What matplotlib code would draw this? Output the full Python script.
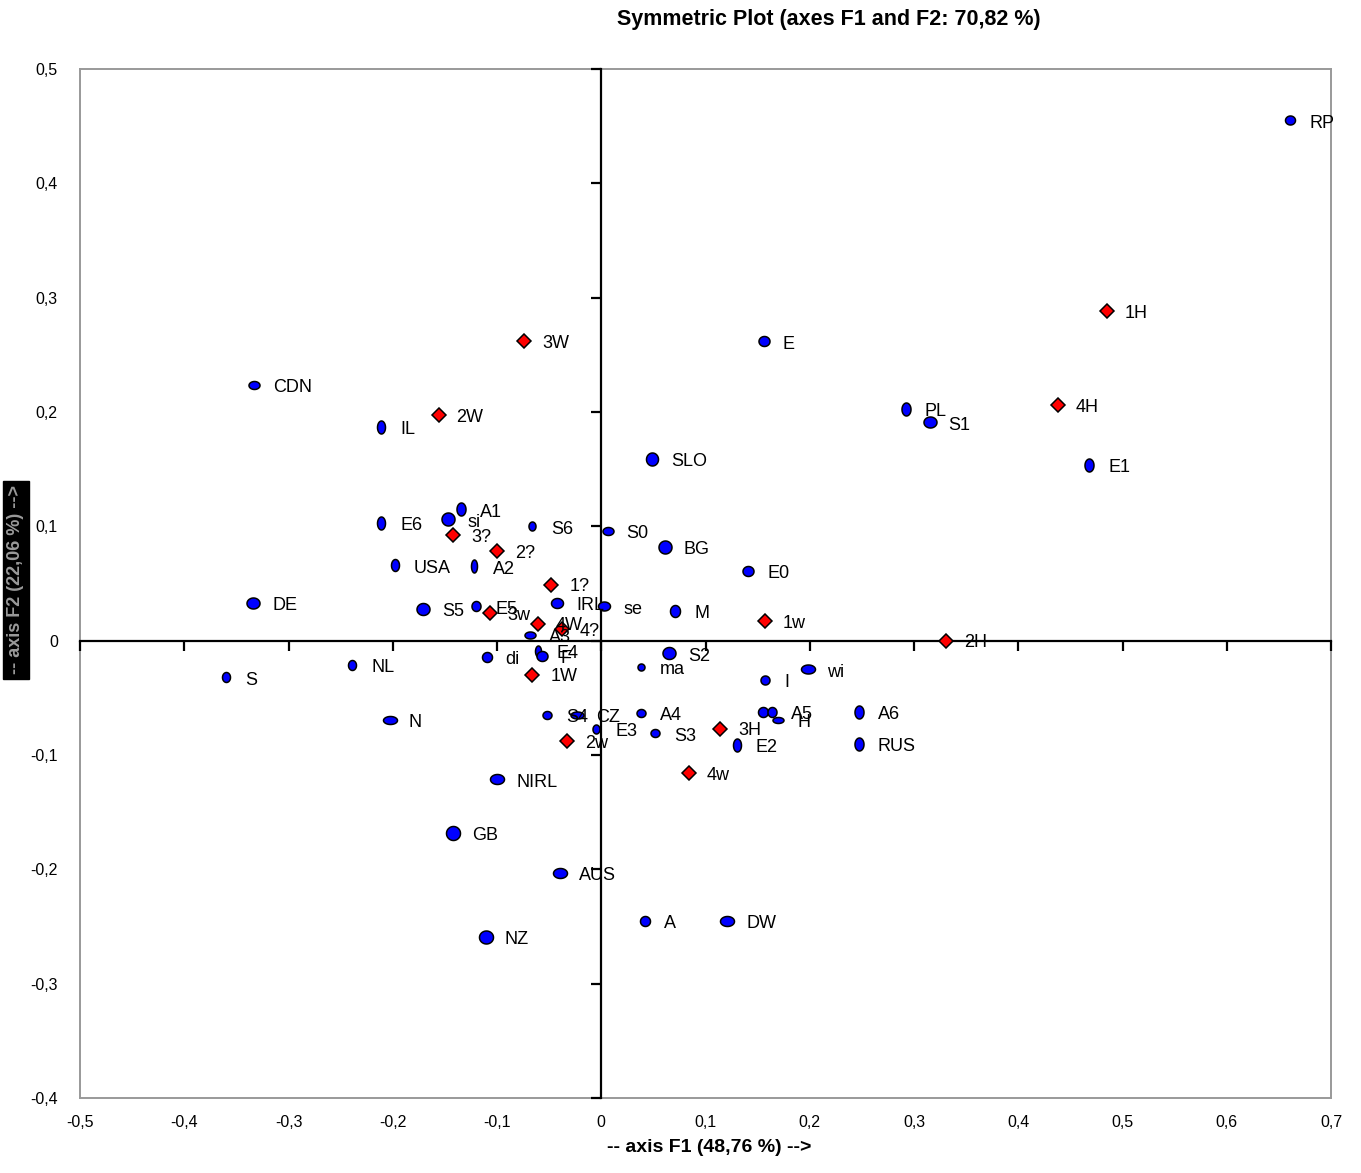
import matplotlib
matplotlib.use("Agg")
import matplotlib.pyplot as plt
import numpy as np
from matplotlib.path import Path

plt.rcParams['font.family'] = ['Liberation Sans', 'DejaVu Sans']

# ---- data: blue points (objects) ----
blue_labels = ["RP", "E", "CDN", "IL", "PL", "S1", "E1", "SLO", "A1", "si", "E6", "S6", "S0", "BG",
               "USA", "A2", "E0", "DE", "IRL", "se", "M", "S5", "E5", "A3", "di", "E4", "F", "S2",
               "NL", "ma", "wi", "S", "I", "", "A5", "H", "A6", "RUS", "S4", "CZ", "A4", "E3", "S3",
               "E2", "N", "NIRL", "GB", "AUS", "A", "DW", "NZ"]
blue_x = [0.661, 0.156, -0.333, -0.211, 0.292, 0.315, 0.468, 0.049, -0.135, -0.147, -0.211, -0.066,
          0.006, 0.061, -0.198, -0.122, 0.141, -0.334, -0.042, 0.003, 0.071, -0.171, -0.120, -0.068,
          -0.110, -0.061, -0.057, 0.065, -0.239, 0.038, 0.198, -0.360, 0.157, 0.155, 0.164, 0.170,
          0.247, 0.247, -0.052, -0.023, 0.038, -0.005, 0.052, 0.130, -0.203, -0.100, -0.142, -0.040,
          0.042, 0.121, -0.111]
blue_y = [0.455, 0.262, 0.224, 0.187, 0.203, 0.191, 0.154, 0.159, 0.115, 0.106, 0.103, 0.100,
          0.096, 0.082, 0.066, 0.065, 0.061, 0.033, 0.033, 0.030, 0.026, 0.028, 0.030, 0.005,
          -0.014, -0.009, -0.013, -0.011, -0.021, -0.023, -0.025, -0.032, -0.034, -0.062, -0.062, -0.069,
          -0.062, -0.090, -0.065, -0.065, -0.063, -0.077, -0.081, -0.091, -0.069, -0.121, -0.168, -0.203,
          -0.245, -0.245, -0.259]

# ---- data: red diamonds (variables) ----
red_labels = ["1H", "4H", "3W", "2W", "3?", "2?", "1?", "3w", "4W", "4?", "1w", "2H", "1W", "2w", "3H", "4w"]
red_x = [0.485, 0.438, -0.074, -0.156, -0.142, -0.100, -0.048, -0.107, -0.061, -0.038, 0.157, 0.331,
         -0.066, -0.033, 0.114, 0.084]
red_y = [0.288, 0.206, 0.262, 0.197, 0.092, 0.078, 0.049, 0.024, 0.015, 0.010, 0.017, 0.000,
         -0.030, -0.088, -0.077, -0.116]

x_ticks = [-0.5, -0.4, -0.3, -0.2, -0.1, 0.0, 0.1, 0.2, 0.3, 0.4, 0.5, 0.6, 0.7]
y_ticks = [-0.4, -0.3, -0.2, -0.1, 0.0, 0.1, 0.2, 0.3, 0.4, 0.5]

# ---- styles: marker (width, height) in pixels per blue point ----
blue_shape = {
    "RP": (10, 9), "E": (11, 10), "CDN": (11, 8), "IL": (8, 13), "PL": (9, 13), "S1": (13, 11),
    "E1": (9, 13), "SLO": (12, 13), "A1": (9, 13), "si": (13, 13), "E6": (8, 13), "S6": (7, 9),
    "S0": (11, 8), "BG": (13, 13), "USA": (8, 12), "A2": (6, 13), "E0": (11, 10), "DE": (13, 11),
    "IRL": (12, 10), "se": (12, 9), "M": (10, 12), "S5": (13, 12), "E5": (9, 10), "A3": (11, 7),
    "di": (10, 10), "E4": (6, 11), "F": (11, 10), "S2": (13, 12), "NL": (8, 10), "ma": (7, 7),
    "wi": (14, 9), "S": (8, 10), "I": (9, 9), "": (10, 10), "A5": (9, 10), "H": (11, 6),
    "A6": (9, 13), "RUS": (9, 13), "S4": (9, 8), "CZ": (13, 7), "A4": (9, 8), "E3": (7, 9),
    "S3": (9, 8), "E2": (8, 13), "N": (14, 8), "NIRL": (14, 10), "GB": (14, 14), "AUS": (14, 10),
    "A": (10, 10), "DW": (14, 10), "NZ": (14, 13),
}

W, H = 1361, 1173
fig = plt.figure(figsize=(W / 100, H / 100), dpi=100)
pos = [80 / W, 1 - 1098 / H, (1331 - 80) / W, (1098 - 69) / H]

# frame axes with tick labels
fr = fig.add_axes(pos)
fr.set_xlim(-0.5, 0.7)
fr.set_ylim(-0.4, 0.5)
for s in fr.spines.values():
    s.set_edgecolor('#999999')
    s.set_linewidth(1.4)
fr.set_xticks(x_ticks)
fr.set_yticks(y_ticks)
def fmt(v):
    if abs(v) < 1e-9:
        return "0"
    return ("%.1f" % v).replace(".", ",")
fr.set_xticklabels([fmt(v) for v in x_ticks], fontsize=11.5)
fr.set_yticklabels([fmt(v) for v in y_ticks], fontsize=11.5)
fr.tick_params(axis='x', length=0, pad=12)
fr.tick_params(axis='y', length=0, pad=16)

# main axes
ax = fig.add_axes(pos, sharex=fr, sharey=fr)
ax.patch.set_alpha(0)
ax.spines['top'].set_visible(False)
ax.spines['right'].set_visible(False)
ax.spines['left'].set_position(('data', 0))
ax.spines['bottom'].set_position(('data', 0))
ax.spines['left'].set_linewidth(1.6)
ax.spines['bottom'].set_linewidth(1.6)
ax.tick_params(direction='out', length=7, width=1.6, labelbottom=False, labelleft=False)

def ellipse_marker(w, h):
    t = np.linspace(0, 2 * np.pi, 60)
    m = max(w, h)
    verts = np.column_stack([np.cos(t) * w / m, np.sin(t) * h / m])
    return Path(verts, closed=True)

px2pt = 0.72
for lab, x, y in zip(blue_labels, blue_x, blue_y):
    w, h = blue_shape.get(lab, (10, 10))
    ax.plot([x], [y], marker=ellipse_marker(w, h), markersize=max(w, h) * px2pt,
            markerfacecolor='#0000FF', markeredgecolor='black', markeredgewidth=1.1,
            linestyle='none', zorder=5)
    if lab:
        ax.annotate(lab, (x, y), xytext=(19, -3), textcoords='offset pixels',
                    fontsize=13, va='center', ha='left', zorder=6)

for lab, x, y in zip(red_labels, red_x, red_y):
    ax.plot([x], [y], marker='D', markersize=7, markerfacecolor='#FF0000',
            markeredgecolor='black', markeredgewidth=1.1, linestyle='none', zorder=5)
    ax.annotate(lab, (x, y), xytext=(18, -2), textcoords='offset pixels',
                fontsize=13, va='center', ha='left', zorder=6)

fig.text(829 / W, 1 - 20 / H, "Symmetric Plot (axes F1 and F2: 70,82 %)",
         ha='center', va='center', fontsize=15.5, fontweight='bold')
fig.text(709 / W, 1 - 1147 / H, "-- axis F1 (48,76 %) -->",
         ha='center', va='center', fontsize=14, fontweight='bold')
fig.text(16 / W, 1 - 580 / H, "-- axis F2 (22,06 %) -->", rotation=90,
         ha='center', va='center', fontsize=13, fontweight='bold', color='#9a9a9a',
         bbox=dict(facecolor='black', edgecolor='black', boxstyle='square,pad=0.25'))

fig.savefig("out.png", dpi=100)
